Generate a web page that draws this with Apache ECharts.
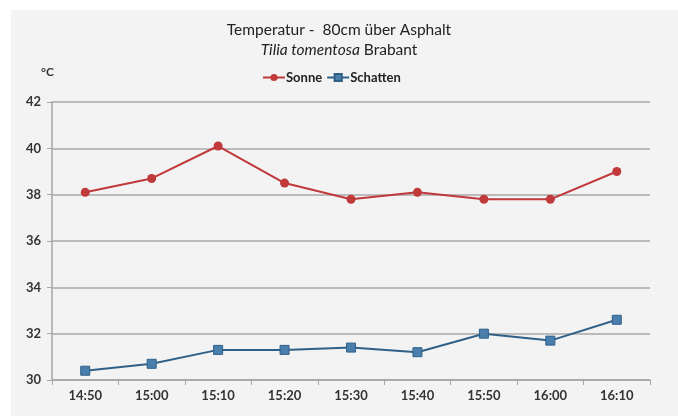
<!DOCTYPE html>
<html><head><meta charset="utf-8">
<script src="https://cdn.jsdelivr.net/npm/echarts@6/dist/echarts.min.js"></script>
<style>html,body{margin:0;padding:0;background:#fff}#c{width:678px;height:416px}</style>
</head><body><div id="c"></div>
<script>
const categories = ['14:50','15:00','15:10','15:20','15:30','15:40','15:50','16:00','16:10'];
const sonne = [38.1, 38.7, 40.1, 38.5, 37.8, 38.1, 37.8, 37.8, 39.0];
const schatten = [30.4, 30.7, 31.3, 31.3, 31.4, 31.2, 32.0, 31.7, 32.6];
const yTicks = [30, 32, 34, 36, 38, 40, 42];

const chart = echarts.init(document.getElementById('c'), null, {renderer:'canvas'});
const font = 'Lato, "Open Sans", sans-serif';
chart.setOption({
  backgroundColor: '#ffffff',
  animation: false,
  graphic: [
    {type:'rect', z:-10, silent:true, shape:{x:11,y:10,width:667,height:406}, style:{fill:'#f3f3f3'}},
    {type:'text', left:41, top:66, style:{text:'°C', font:'bold 12px '+font, fill:'#333'}}
  ],
  title: {
    text: '{n|Temperatur -  80cm über Asphalt}\n{i|Tilia tomentosa}{n| Brabant}',
    left: 'center', top: 15,
    textStyle: {
      rich: {
        n: {fontFamily: font, fontSize: 15.5, fontWeight: 'normal', color: '#222', lineHeight: 20},
        i: {fontFamily: font, fontSize: 15.5, fontStyle: 'italic', fontWeight: 'normal', color: '#222', lineHeight: 20}
      }
    }
  },
  legend: {
    top: 66, left: 257,
    itemWidth: 22, itemHeight: 9, itemGap: 4,
    textStyle: {fontFamily: font, fontSize: 13, fontWeight: 'bold', color: '#222', padding:[0,0,0,-4]},
    data: ['Sonne','Schatten']
  },
  grid: {left: 52, right: 28, top: 102, bottom: 36},
  xAxis: {
    type: 'category', data: categories, boundaryGap: true,
    axisLine: {lineStyle: {color: '#a6a6a6', width: 1.5}},
    axisTick: {show: true, inside: false, length: 5, lineStyle: {color: '#a6a6a6'}},
    axisLabel: {fontFamily: font, fontSize: 13, color: '#333', fontWeight: 'bold', margin: 9}
  },
  yAxis: {
    type: 'value', min: yTicks[0], max: yTicks[yTicks.length-1], interval: 2,
    axisLine: {show: true, lineStyle: {color: '#a6a6a6', width: 1.5}},
    axisTick: {show: true, length: 5, lineStyle: {color: '#a6a6a6'}},
    axisLabel: {fontFamily: font, fontSize: 13, color: '#333', fontWeight: 'bold', margin: 11},
    splitLine: {lineStyle: {color: '#a8a8a8', width: 1.5}}
  },
  series: [
    {name:'Sonne', type:'line', data: sonne, symbol:'circle', symbolSize: 9,
     lineStyle:{color:'#c0393b', width:2}, itemStyle:{color:'#c0393b'}},
    {name:'Schatten', type:'line', data: schatten, symbol:'rect', symbolSize: 9,
     lineStyle:{color:'#2f6088', width:2}, itemStyle:{color:'#4a7eac', borderColor:'#2f6088', borderWidth:1}}
  ]
});
</script></body></html>
